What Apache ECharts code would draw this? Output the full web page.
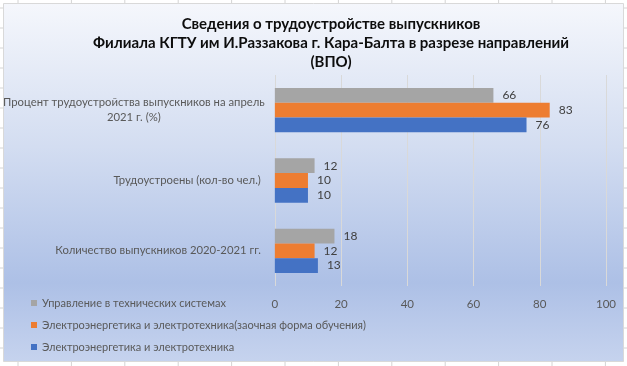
<!DOCTYPE html>
<html><head><meta charset="utf-8">
<script src="https://cdn.jsdelivr.net/npm/echarts@6/dist/echarts.min.js"></script>
<style>html,body{margin:0;padding:0;background:#fff}#c{width:627px;height:366px}</style>
</head><body><div id="c"></div>
<script>
const categories = ['Количество выпускников 2020-2021 гг.', 'Трудоустроены (кол-во чел.)', 'Процент трудоустройства выпускников на апрель 2021 г. (%)'];
const seriesNames = ['Электроэнергетика и электротехника', 'Электроэнергетика и электротехника(заочная форма обучения)', 'Управление в технических системах'];
const elEnergy = [13, 10, 76];
const elEnergyZaoch = [12, 10, 83];
const upravlenie = [18, 12, 66];
const xTicks = [0, 20, 40, 60, 80, 100];
const titleText = 'Сведения о трудоустройстве выпускников\nФилиала КГТУ им И.Раззакова г. Кара-Балта в разрезе направлений\n(ВПО)';

const FONT = 'Lato';
const colors = ['#4472c4', '#ed7d31', '#a5a5a5'];
const chart = echarts.init(document.getElementById('c'));

const deco = [];
for (let k = 0; k < 12; k++) {
  const x = 18 + 53.4 * k;
  deco.push({type:'line', shape:{x1:x,y1:0,x2:x,y2:3}, style:{stroke:'#d4d4d4',lineWidth:1}, z:-20});
  deco.push({type:'line', shape:{x1:x,y1:362,x2:x,y2:366}, style:{stroke:'#d4d4d4',lineWidth:1}, z:-20});
}
for (let k = 0; k < 19; k++) {
  const y = 8 + 20 * k;
  deco.push({type:'line', shape:{x1:0,y1:y,x2:3,y2:y}, style:{stroke:'#d4d4d4',lineWidth:1}, z:-20});
  deco.push({type:'line', shape:{x1:624,y1:y,x2:627,y2:y}, style:{stroke:'#d4d4d4',lineWidth:1}, z:-20});
}

const mkSeries = (name, data, i) => ({
  name, type:'bar', data, barGap:'0%', barCategoryGap:'37%',
  itemStyle:{color:colors[i]},
  label:{show:true, position:'right', distance:9, color:'#404040', fontSize:12, fontFamily:FONT}
});

chart.setOption({
  animation:false,
  backgroundColor:'#ffffff',
  graphic: deco.concat([
    {type:'rect', shape:{x:3.5,y:3.5,width:620,height:358}, z:-10,
     style:{stroke:'#d9d9d9', lineWidth:1,
       fill:new echarts.graphic.LinearGradient(0,0,0,1,[
         {offset:0,color:'#f5f7fc'},{offset:0.4,color:'#d3ddf1'},{offset:0.78,color:'#adc0e6'},{offset:1,color:'#c6d3ee'}])}},
    {type:'text', x:331, y:15, z:10,
     style:{text:titleText, textAlign:'center', textVerticalAlign:'top', font:'bold 15px '+FONT, lineHeight:19, fill:'#0d0d0d'}}
  ]),
  grid:{left:271, right:21, top:75, bottom:80, containLabel:false},
  legend:{
    orient:'vertical', left:26, top:291, itemWidth:6, itemHeight:6, itemGap:8, icon:'rect',
    data:[seriesNames[2], seriesNames[1], seriesNames[0]],
    textStyle:{color:'#595959', fontSize:11, fontFamily:FONT, lineHeight:14}
  },
  xAxis:{
    type:'value', min:xTicks[0], max:xTicks[xTicks.length-1], interval:20,
    axisLine:{show:false}, axisTick:{show:false},
    splitLine:{show:true, lineStyle:{color:'#d9d9d9', width:1}},
    axisLabel:{color:'#595959', fontSize:11.5, fontFamily:FONT, margin:12}
  },
  yAxis:{
    type:'category', data:categories,
    axisLine:{show:false}, axisTick:{show:false},
    axisLabel:{color:'#595959', fontSize:11.3, fontFamily:FONT, margin:14,
      formatter:function(v){
        if (v.indexOf('апрель') >= 0) {
          const i = v.indexOf(' 2021');
          return '{w|' + v.slice(0, i) + '\n' + v.slice(i + 1) + '}';
        }
        return v;
      },
      rich:{w:{width:254, align:'center', color:'#595959', fontSize:11.3, fontFamily:FONT, lineHeight:15}}
    }
  },
  series:[mkSeries(seriesNames[2], upravlenie, 2), mkSeries(seriesNames[1], elEnergyZaoch, 1), mkSeries(seriesNames[0], elEnergy, 0)]
});
</script></body></html>
